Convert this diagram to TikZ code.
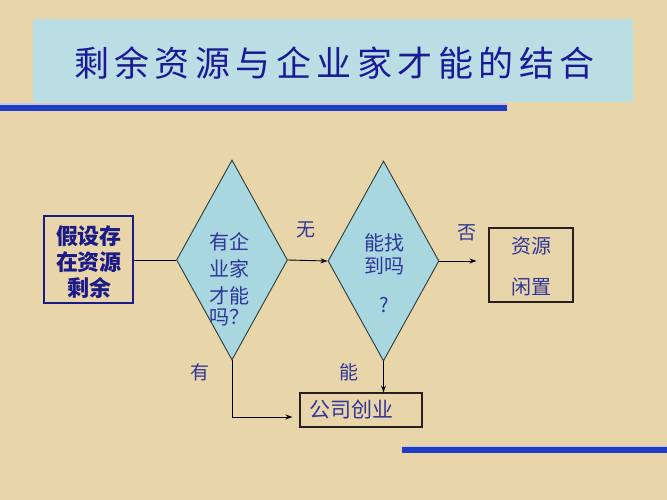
\documentclass[tikz,border=0pt]{standalone}
\usepackage{fontspec}
\setmainfont{Noto Sans CJK SC}
\usetikzlibrary{shapes.geometric,arrows.meta}
\definecolor{paper}{HTML}{E8D5A9}
\definecolor{titlebg}{HTML}{BBDEE5}
\definecolor{titlefg}{HTML}{1A1A96}
\definecolor{barblue}{HTML}{1E3CC4}
\definecolor{diafill}{HTML}{A9D7DF}
\definecolor{diaedge}{HTML}{2C3A3A}
\definecolor{txtblue}{HTML}{30359A}
\definecolor{boldblue}{HTML}{1A1A88}
\definecolor{boxedge}{HTML}{2A1E1E}
\newcommand\tsp{\hspace{5.5pt}}
\tikzset{
  dia/.style={diamond, draw=diaedge, fill=diafill, line width=0.9pt, inner sep=0pt},
  plainbox/.style={rectangle, draw=boxedge, line width=1.1pt, inner sep=0pt},
  firstbox/.style={rectangle, draw=boldblue, line width=1.1pt, inner sep=0pt},
  lbl/.style={text=txtblue, font=\fontsize{19}{22}\selectfont, inner sep=0pt},
  conn/.style={draw=black, line width=0.9pt},
  arr/.style={conn, -{Stealth[length=7pt,width=5pt]}}
}
\begin{document}
\begin{tikzpicture}[x=1pt,y=-1pt]
\useasboundingbox (0,0) rectangle (667,500);
\fill[paper] (0,0) rectangle (667,500);
% title
\fill[titlebg] (33,19) rectangle (633,102);
\node[text=titlefg, font=\fontsize{35}{40}\selectfont, inner sep=0pt] (title) at (334.5,63)
  {剩\tsp 余\tsp 资\tsp 源\tsp 与\tsp 企\tsp 业\tsp 家\tsp 才\tsp 能\tsp 的\tsp 结\tsp 合};
\fill[white!70!barblue] (0,103.5) rectangle (507,105);
\fill[barblue] (0,105) rectangle (507,111);
\fill[white!70!barblue] (402,445.5) rectangle (667,447);
\fill[barblue] (402,447) rectangle (667,453);
% boxes
\node[firstbox, minimum width=89pt, minimum height=87pt] (b1) at (88.5,259.5) {};
\node[text=boldblue, font=\bfseries\fontsize{22}{26}\selectfont, align=center, inner sep=0pt] (b1t) at (89,262) {假设存\\在资源\\剩余};
\node[dia, minimum width=111pt, minimum height=200pt] (d1) at (232,260) {};
\node[text=txtblue, font=\fontsize{20}{27}\selectfont, align=left, inner sep=0pt, anchor=north west] (d1t) at (209,232) {有企\\业家\\才能\\[-6pt]吗？};
\node[dia, minimum width=111pt, minimum height=200pt] (d2) at (383.5,261) {};
\node[text=txtblue, font=\fontsize{20}{23}\selectfont, align=center, inner sep=0pt, anchor=north] (d2t) at (384,233) {能找\\到吗\\[16pt]?};
\node[plainbox, minimum width=84pt, minimum height=74pt] (b2) at (531,265) {};
\node[text=txtblue, font=\fontsize{20}{41}\selectfont, align=center, inner sep=0pt] (b2t) at (531,266) {资源\\闲置};
\node[plainbox, minimum width=122pt, minimum height=34pt] (b3) at (361,410) {};
\node[text=txtblue, font=\fontsize{21}{24}\selectfont, inner sep=0pt] (b3t) at (351,410) {公司创业};
% labels
\node[lbl] (lw) at (306,230) {无};
\node[lbl] (lf) at (467,233) {否};
\node[lbl] (ly) at (200,372) {有};
\node[lbl] (ln) at (349,372) {能};
% connectors
\draw[conn] (b1.east |- d1.west) -- (d1.west);
\draw[arr] (d1.east) -- (d2.west);
\draw[arr, shorten >=12pt] (d2.east) -- (b2.west |- d2.east);
\draw[arr] (d2.south) -- (b3.north -| d2.south);
\draw[arr, shorten >=7pt] (d1.south) |- ([yshift=-7pt]b3.west);
\end{tikzpicture}
\end{document}
